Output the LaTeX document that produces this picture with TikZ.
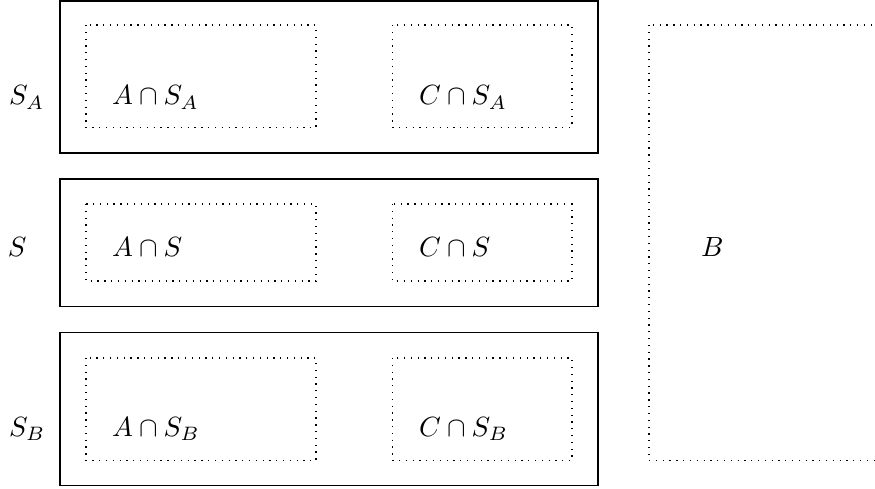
\documentclass[tikz,border=0pt]{standalone}
\begin{document}
\begin{tikzpicture}[x=0.36pt,y=-0.36pt,
  outerbox/.style={draw=black,line width=0.7pt},
  innerbox/.style={draw=black,dotted,line width=0.45pt},
  lbl/.style={inner sep=0pt,outer sep=0pt,anchor=base west,font=\normalsize}]
\useasboundingbox (0,0) rectangle (875,489);
\clip (0,0) rectangle (875,489);
% top row
\draw[outerbox] (60,0.6) rectangle (598,153);
\draw[innerbox] (86,25) rectangle (316,127.5);
\draw[innerbox] (392.5,25) rectangle (572,127.5);
% middle row
\draw[outerbox] (60,179) rectangle (598,306.5);
\draw[innerbox] (86,204) rectangle (316,281);
\draw[innerbox] (392.5,204) rectangle (572,281);
% bottom row
\draw[outerbox] (60,332.5) rectangle (598,485.5);
\draw[innerbox] (86,358) rectangle (316,460.5);
\draw[innerbox] (392.5,358) rectangle (572,460.5);
% B
\draw[innerbox] (649,25) rectangle (900,460.5);
% labels
\node[lbl] (sa) at (9,105) {$S_A$};
\node[lbl] (s) at (8,256.5) {$S$};
\node[lbl] (sb) at (9,436.5) {$S_B$};
\node[lbl] (asa) at (112,105) {$A\cap S_A$};
\node[lbl] (as) at (112,256.5) {$A\cap S$};
\node[lbl] (asb) at (112,436.5) {$A\cap S_B$};
\node[lbl] (csa) at (419,105) {$C\cap S_A$};
\node[lbl] (cs) at (419,256.5) {$C\cap S$};
\node[lbl] (csb) at (419,436.5) {$C\cap S_B$};
\node[lbl] (b) at (701,256.5) {$B$};
\end{tikzpicture}
\end{document}
